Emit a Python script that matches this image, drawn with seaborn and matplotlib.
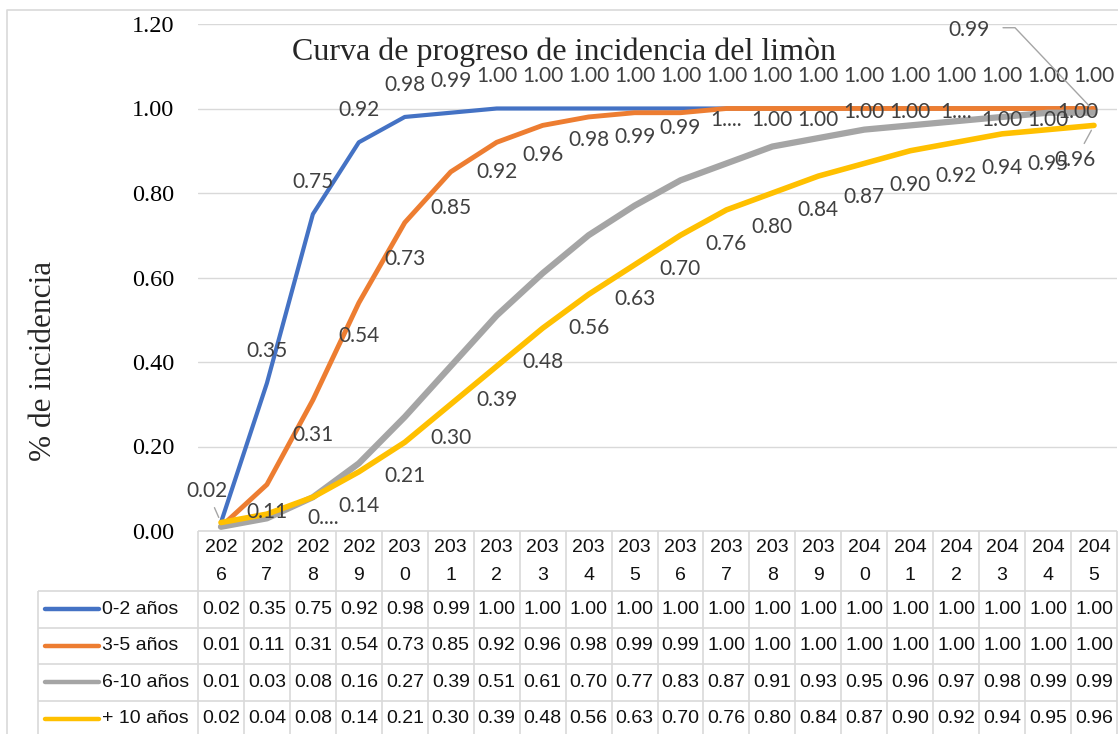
import numpy as np
import pandas as pd
import matplotlib
matplotlib.use("Agg")
import matplotlib.pyplot as plt
import seaborn as sns

years = [str(y) for y in range(2026, 2046)]
series_names = ["0-2 años", "3-5 años", "6-10 años", "+ 10 años"]
s_0_2 = [0.02, 0.35, 0.75, 0.92, 0.98, 0.99, 1.00, 1.00, 1.00, 1.00,
         1.00, 1.00, 1.00, 1.00, 1.00, 1.00, 1.00, 1.00, 1.00, 1.00]
s_3_5 = [0.01, 0.11, 0.31, 0.54, 0.73, 0.85, 0.92, 0.96, 0.98, 0.99,
         0.99, 1.00, 1.00, 1.00, 1.00, 1.00, 1.00, 1.00, 1.00, 1.00]
s_6_10 = [0.01, 0.03, 0.08, 0.16, 0.27, 0.39, 0.51, 0.61, 0.70, 0.77,
          0.83, 0.87, 0.91, 0.93, 0.95, 0.96, 0.97, 0.98, 0.99, 0.99]
s_10 = [0.02, 0.04, 0.08, 0.14, 0.21, 0.30, 0.39, 0.48, 0.56, 0.63,
        0.70, 0.76, 0.80, 0.84, 0.87, 0.90, 0.92, 0.94, 0.95, 0.96]
values = [s_0_2, s_3_5, s_6_10, s_10]

colors = {"0-2 años": "#4472C4", "3-5 años": "#ED7D31",
          "6-10 años": "#A5A5A5", "+ 10 años": "#FFC000"}
widths = {"0-2 años": 3.0, "3-5 años": 3.5, "6-10 años": 4.5, "+ 10 años": 4.0}

W, H = 1118, 734
GRID = "#d9d9d9"
LABEL = "#404040"

sns.set_theme(style="white")
plt.rcParams["font.family"] = ["Liberation Serif", "DejaVu Sans"]

df = pd.DataFrame({
    "idx": np.tile(np.arange(len(years)), len(series_names)),
    "valor": np.concatenate(values),
    "serie": np.repeat(series_names, len(years)),
})

fig = plt.figure(figsize=(W / 100, H / 100), dpi=100)
x0, x1, y_top, y_bot = 198, 1117, 24, 531
ax = fig.add_axes([x0 / W, 1 - y_bot / H, (x1 - x0) / W, (y_bot - y_top) / H])

sns.lineplot(data=df, x="idx", y="valor", hue="serie", size="serie",
             hue_order=series_names, size_order=series_names,
             palette=colors, sizes=widths, legend=False, ax=ax,
             estimator=None, sort=False)
for ln in ax.get_lines():
    ln.set_solid_capstyle("round")
    ln.set_solid_joinstyle("round")

ax.set_xlim(-0.5, len(years) - 0.5)
ax.set_ylim(0, 1.2)
ax.set_yticks(np.arange(0, 1.21, 0.2))
ax.set_yticklabels([f"{t:.2f}" for t in np.arange(0, 1.21, 0.2)],
                   fontsize=17.5, family="Liberation Serif", color="black")
ax.tick_params(axis="y", length=0, pad=17)
ax.set_xticks([])
ax.set_xlabel("")
ax.set_ylabel("")
ax.yaxis.grid(True, color=GRID, lw=1.0)
ax.set_axisbelow(True)
for sp in ax.spines.values():
    sp.set_visible(False)


def label(i, v, txt, dx, dy, leader=False):
    kw = dict(textcoords="offset pixels", ha="center", va="center",
              fontsize=15, color=LABEL, family="Lato", annotation_clip=False,
              zorder=5)
    if leader:
        kw["arrowprops"] = dict(arrowstyle="-", color="#a5a5a5", lw=1.0,
                                shrinkA=3, shrinkB=4)
    ax.annotate(txt, (i, v), xytext=(dx, dy), **kw)


# 0-2 años: labels above
for i, v in enumerate(s_0_2):
    if i == 0:
        label(i, v, f"{v:.2f}", -14, 32, leader=True)
    else:
        label(i, v, f"{v:.2f}", 0, 32)

# 3-5 años: labels below (Excel moved the later ones up)
orange_dy = [None, -27, -35, -33, -36, -36, -30, -30, -23, -24, -15,
             -11, -11, -11, -3, -3, -3, -11, -11, -3]
for i, v in enumerate(s_3_5):
    if orange_dy[i] is None:
        continue
    txt = "1...." if i in (11, 16) else f"{v:.2f}"
    label(i, v, txt, -16 if i == 19 else 0, orange_dy[i])

# + 10 años: labels below
for i, v in enumerate(s_10):
    if i < 2:
        continue
    if i == 2:
        label(i, v, "0....", 10, -21)
    elif i == 19:
        label(i, v, f"{v:.2f}", -19, -35, leader=True)
    else:
        label(i, v, f"{v:.2f}", 0, -34)

# 6-10 años: only the last label, pulled to the top with a leader line
ax.annotate(f"{s_6_10[-1]:.2f}", (19, s_6_10[-1]), xytext=(-125, 83),
            textcoords="offset pixels", ha="center", va="center",
            fontsize=15, color=LABEL, family="Lato", annotation_clip=False,
            zorder=5)
px, py = ax.transData.transform((19, s_6_10[-1]))
py = H - py

# overlay in pixel coordinates for table, borders and texts
ov = fig.add_axes([0, 0, 1, 1], facecolor="none")
ov.set_xlim(0, W)
ov.set_ylim(H, 0)
ov.axis("off")

ov.plot([px - 91, px - 79, px - 4], [py - 85, py - 85, py - 6],
        color="#a5a5a5", lw=1.0)

# chart border
ov.plot([7, 7, W], [H, 10, 10], color=GRID, lw=1.2)

fig.text(564 / W, 1 - 60 / H, "Curva de progreso de incidencia del limòn",
         ha="center", va="baseline", fontsize=23, family="Liberation Serif")
fig.text(44 / W, 1 - 361 / H, "% de incidencia", rotation=90,
         ha="center", va="center", fontsize=22.5, family="Liberation Serif")

# data table
colw = (x1 - x0) / len(years)
leg_x = 38
head_bot = 591
row_h = 36.5
tkw = dict(lw=1.2, color=GRID, solid_capstyle="butt")
ov.plot([x0, x1], [y_bot, y_bot], **tkw)
for r in range(len(series_names) + 1):
    yy = head_bot + r * row_h
    ov.plot([leg_x, x1], [yy, yy], **tkw)
ov.plot([leg_x, leg_x], [head_bot, H], **tkw)
for c in range(len(years) + 1):
    xx = x0 + c * colw
    ov.plot([xx, xx], [y_bot, H], **tkw)

fkw = dict(fontsize=14, family="Liberation Sans", color="#111111")
for c, yr in enumerate(years):
    cx = x0 + (c + 0.5) * colw
    ov.text(cx, 548, yr[:3], ha="center", va="center", **fkw)
    ov.text(cx, 575, yr[3:], ha="center", va="center", **fkw)

for r, name in enumerate(series_names):
    cy = head_bot + (r + 0.5) * row_h
    ov.plot([45, 99], [cy, cy], color=colors[name], lw=3.2,
            solid_capstyle="round")
    ov.text(102, cy, name, ha="left", va="center", **fkw)
    for c, v in enumerate(values[r]):
        cx = x0 + (c + 0.5) * colw
        ov.text(cx, cy, f"{v:.2f}", ha="center", va="center", **fkw)

fig.savefig("out.png", dpi=100)
